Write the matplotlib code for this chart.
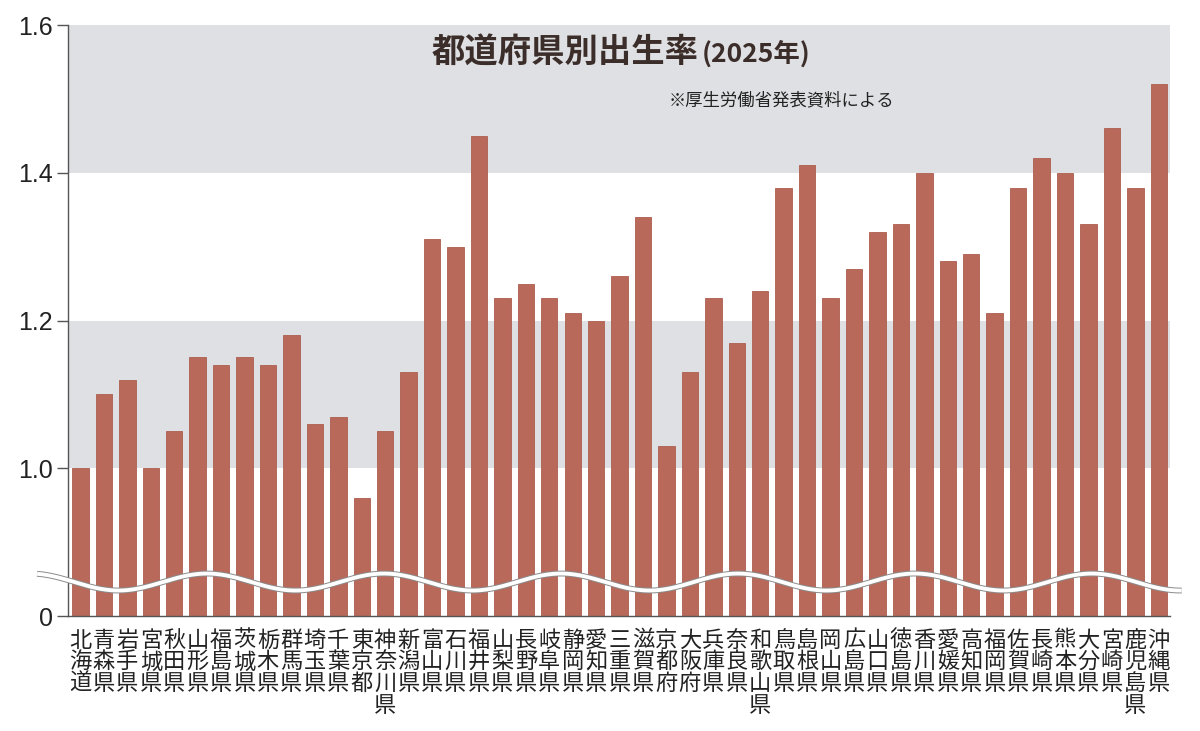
import numpy as np
import matplotlib
matplotlib.use("Agg")
import matplotlib.pyplot as plt

plt.rcParams['font.family'] = ['Noto Sans CJK JP', 'DejaVu Sans']

# 都道府県別出生率 (2025年)
prefectures = [
    "北海道", "青森県", "岩手県", "宮城県", "秋田県", "山形県", "福島県",
    "茨城県", "栃木県", "群馬県", "埼玉県", "千葉県", "東京都", "神奈川県",
    "新潟県", "富山県", "石川県", "福井県", "山梨県", "長野県", "岐阜県",
    "静岡県", "愛知県", "三重県", "滋賀県", "京都府", "大阪府", "兵庫県",
    "奈良県", "和歌山県", "鳥取県", "島根県", "岡山県", "広島県", "山口県",
    "徳島県", "香川県", "愛媛県", "高知県", "福岡県", "佐賀県", "長崎県",
    "熊本県", "大分県", "宮崎県", "鹿児島県", "沖縄県",
]
birth_rate = [
    1.00, 1.10, 1.12, 1.00, 1.05, 1.15, 1.14,
    1.15, 1.14, 1.18, 1.06, 1.07, 0.96, 1.05,
    1.13, 1.31, 1.30, 1.45, 1.23, 1.25, 1.23,
    1.21, 1.20, 1.26, 1.34, 1.03, 1.13, 1.23,
    1.17, 1.24, 1.38, 1.41, 1.23, 1.27, 1.32,
    1.33, 1.40, 1.28, 1.29, 1.21, 1.38, 1.42,
    1.40, 1.33, 1.46, 1.38, 1.52,
]
ytick_values = [0.8, 1.0, 1.2, 1.4, 1.6]
ytick_labels = ["0", "1.0", "1.2", "1.4", "1.6"]
bands = [(1.0, 1.2), (1.4, 1.6)]

BAR_COLOR = "#b9695a"
BAND_COLOR = "#dfe0e3"
AXIS_COLOR = "#555555"

fig = plt.figure(figsize=(12, 7.31), dpi=100)
ax = fig.add_axes([0.0567, 0.1573, 0.9183, 0.8085])

x = np.arange(len(prefectures))
for lo, hi in bands:
    ax.axhspan(lo, hi, color=BAND_COLOR, lw=0, zorder=0)
ax.bar(x, birth_rate, width=0.7, color=BAR_COLOR, edgecolor="#ad5e4f",
       linewidth=0.6, zorder=2)

ax.set_xlim(-0.53, len(prefectures) - 0.52)
ax.set_ylim(0.8, 1.6)

# axis break (wave)
wx = np.linspace(-1.85, len(prefectures) - 0.02, 600)
period = 7.55
wy = 0.846 + 0.0115 * np.cos(2 * np.pi * (wx - 5.4) / period)
ax.plot(wx, wy, color="#8a8a8a", lw=4.2, zorder=4, clip_on=False,
        solid_capstyle="butt")
ax.plot(wx, wy, color="white", lw=2.8, zorder=5, clip_on=False,
        solid_capstyle="butt")

for side in ["top", "right"]:
    ax.spines[side].set_visible(False)
for side in ["left", "bottom"]:
    ax.spines[side].set_color(AXIS_COLOR)
    ax.spines[side].set_linewidth(1.0)

ax.set_yticks(ytick_values)
ax.set_yticklabels(ytick_labels, family="Liberation Sans", fontsize=18,
                   color="#222222")
ax.tick_params(axis="y", direction="out", length=8, width=1.0,
               color=AXIS_COLOR, pad=3)

ax.set_xticks(x)
ax.set_xticklabels(["\n".join(name) for name in prefectures], fontsize=16,
                   color="#222222", linespacing=0.93, va="top")
ax.tick_params(axis="x", length=0, pad=9)

# title and note
fig.text(0.36, 0.928, "都道府県別出生率", fontsize=24, fontweight="bold",
         color="#3b2d29", ha="left", va="center")
fig.text(0.5845, 0.926, "(2025年)", fontsize=19, fontweight="bold",
         color="#3b2d29", ha="left", va="center")
fig.text(0.557, 0.863, "※厚生労働省発表資料による", fontsize=12.5,
         color="#222222", ha="left", va="center")

fig.savefig("out.png", dpi=100)
